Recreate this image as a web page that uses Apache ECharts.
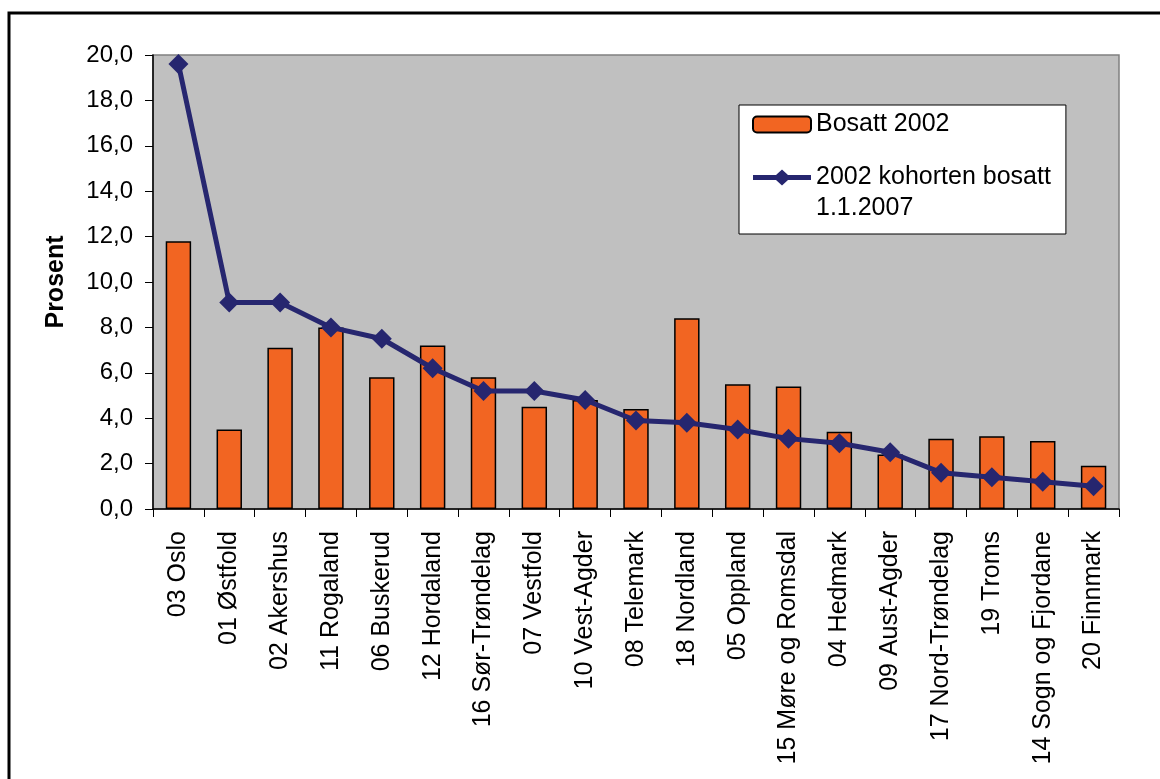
<!DOCTYPE html>
<html>
<head>
<meta charset="utf-8">
<title>Bosatt 2002</title>
<script src="https://cdn.jsdelivr.net/npm/echarts@6/dist/echarts.min.js"></script>
<style>
  html, body { margin: 0; padding: 0; background: #fff; }
  #chart { width: 1160px; height: 779px; }
</style>
</head>
<body>
<div id="chart"></div>
<script>
// fylker, sortert etter kohorten
const categories = [
  '03 Oslo', '01 Østfold', '02 Akershus', '11 Rogaland', '06 Buskerud',
  '12 Hordaland', '16 Sør-Trøndelag', '07 Vestfold', '10 Vest-Agder',
  '08 Telemark', '18 Nordland', '05 Oppland', '15 Møre og Romsdal',
  '04 Hedmark', '09 Aust-Agder', '17 Nord-Trøndelag', '19 Troms',
  '14 Sogn og Fjordane', '20 Finnmark'
]
const bosatt2002 = [11.8, 3.5, 7.1, 8.0, 5.8, 7.2, 5.8, 4.5, 4.8, 4.4, 8.4, 5.5, 5.4, 3.4, 2.4, 3.1, 3.2, 3.0, 1.9]
const kohort2007 = [19.6, 9.1, 9.1, 8.0, 7.5, 6.2, 5.2, 5.2, 4.8, 3.9, 3.8, 3.5, 3.1, 2.9, 2.5, 1.6, 1.4, 1.2, 1.0]

const font = "'Liberation Sans', Arial, sans-serif"
const navy = '#26266F'

const chart = echarts.init(document.getElementById('chart'))

chart.setOption({
  animation: false,
  graphic: [{
    type: 'rect',
    shape: { x: 9, y: 13, width: 1300, height: 1000 },
    style: { fill: 'none', stroke: '#000', lineWidth: 3 },
    silent: true
  }],
  grid: {
    left: 153,
    right: 41,
    top: 55,
    bottom: 270,
    show: true,
    backgroundColor: '#C0C0C0',
    borderColor: '#808080',
    borderWidth: 1.5
  },
  legend: {
    orient: 'vertical',
    left: 739,
    top: 105,
    padding: [4, 15, 10, 13],
    itemGap: -9,
    itemWidth: 58,
    itemHeight: 16,
    backgroundColor: '#fff',
    borderColor: '#000',
    borderWidth: 1,
    textStyle: { fontFamily: font, fontSize: 25, color: '#000', lineHeight: 31 },
    data: [
      { name: 'Bosatt 2002' },
      {
        name: '2002 kohorten bosatt',
        // linje med rombe, som i Excel
        icon: 'path://M0,5.5 L23,5.5 L29,0 L35,5.5 L58,5.5 L58,10.5 L35,10.5 L29,16 L23,10.5 L0,10.5 Z',
        itemStyle: { color: navy, borderWidth: 0 }
      }
    ],
    formatter: function (name) {
      return name === '2002 kohorten bosatt' ? '\n2002 kohorten bosatt\n1.1.2007' : name
    }
  },
  xAxis: {
    type: 'category',
    data: categories,
    axisLine: { lineStyle: { color: '#000', width: 1.5 } },
    axisTick: { show: true, interval: 0, length: 8, lineStyle: { color: '#000' } },
    axisLabel: {
      interval: 0,
      rotate: 90,
      margin: 22,
      color: '#000',
      fontFamily: font,
      fontSize: 25
    }
  },
  yAxis: {
    type: 'value',
    min: 0,
    max: 20,
    interval: 2,
    name: 'Prosent',
    nameLocation: 'middle',
    nameGap: 84,
    nameTextStyle: { fontFamily: font, fontSize: 25, fontWeight: 'bold', color: '#000' },
    splitLine: { show: false },
    axisLine: { show: true, lineStyle: { color: '#000', width: 1.5 } },
    axisTick: { show: true, length: 8, lineStyle: { color: '#000' } },
    axisLabel: {
      margin: 20,
      color: '#000',
      fontFamily: font,
      fontSize: 24,
      formatter: v => v.toFixed(1).replace('.', ',')
    }
  },
  series: [
    {
      name: 'Bosatt 2002',
      type: 'bar',
      barWidth: '50%',
      data: bosatt2002,
      itemStyle: { color: '#F26522', borderColor: '#000', borderWidth: 1.5 }
    },
    {
      name: '2002 kohorten bosatt',
      type: 'line',
      data: kohort2007,
      symbol: 'diamond',
      symbolSize: 20,
      lineStyle: { color: navy, width: 5 },
      itemStyle: { color: navy }
    }
  ]
})
</script>
</body>
</html>
